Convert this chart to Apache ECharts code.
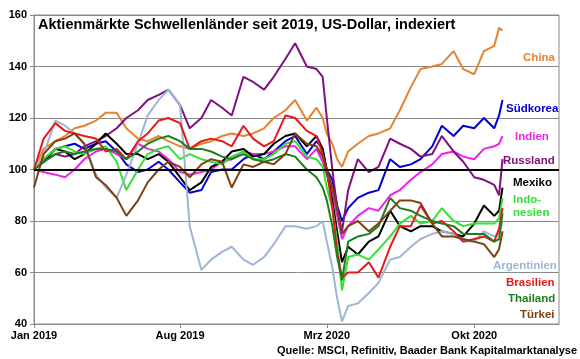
<!DOCTYPE html>
<html>
<head>
<meta charset="utf-8">
<script src="https://cdn.jsdelivr.net/npm/echarts@6/dist/echarts.min.js"></script>
<style>html,body{margin:0;padding:0;background:#fff}#c{width:580px;height:359px}</style>
</head>
<body>
<div id="c"></div>
<script>
const dates = ['2019-01-01','2019-01-15','2019-02-01','2019-02-15','2019-03-01','2019-03-15','2019-04-01','2019-04-15','2019-05-01','2019-05-15','2019-06-01','2019-06-15','2019-07-01','2019-07-15','2019-08-01','2019-08-15','2019-09-01','2019-09-15','2019-10-01','2019-10-15','2019-11-01','2019-11-15','2019-12-01','2019-12-15',
'2020-01-01','2020-01-15','2020-02-01','2020-02-15','2020-02-24','2020-03-01','2020-03-09','2020-03-16','2020-03-23','2020-04-01','2020-04-15','2020-05-01','2020-05-15','2020-06-01','2020-06-15','2020-07-01','2020-07-15','2020-08-01','2020-08-15','2020-09-01','2020-09-15','2020-10-01','2020-10-15','2020-10-30','2020-11-06','2020-11-11'];

const china      = [100,108,111,113,116,117,119,122,122,116,112,111,113,111,109,108,110,111,113,114,113,114,116,120, 123,127,119,124,120,114,110,104,101,107,110,113,114,116,123,132,139,140,141,146,139,137,146,148,155,154];
const suedkorea  = [100,104,108,109,110,108,110,111,107,102,99,100,103,100,95,91,92,99,100,100,104,106,104,107, 111,113,106,111,108,100,96,86,80,85,89,91,92,104,101,102,104,109,117,113,117,116,120,116,121,127];
const indien     = [100,99,98,97,100,104,107,108,106,104,110,108,107,104,99,98,99,100,103,104,107,106,106,107, 109,109,104,108,103,98,92,82,73,78,82,85,84,90,92,96,99,102,106,107,105,104,108,109,110,113];
const russland   = [100,103,106,105,106,109,111,113,116,120,123,127,129,131,125,116,120,127,124,121,136,134,131,136, 143,149,140,139,136,120,100,85,76,92,104,99,101,112,110,108,105,106,113,107,103,97,96,94,90,104];
const mexiko     = [100,103,108,107,104,106,110,114,110,106,106,104,106,103,97,92,95,101,103,107,108,105,106,110, 113,114,109,113,108,99,88,76,64,70,67,72,74,84,78,76,78,78,76,75,74,79,86,82,84,93];
const indonesien = [100,104,108,109,107,106,108,109,103,92,100,106,108,109,104,106,104,103,102,105,107,104,104,106, 110,111,105,104,101,93,85,72,53,66,67,65,69,74,79,82,79,80,85,80,78,79,79,79,81,89];
const argentinien= [100,106,119,117,114,110,98,93,89,98,110,121,127,131,125,78,61,65,68,70,65,63,66,71, 78,78,77,78,80,72,62,50,41,47,48,52,56,65,66,70,73,75,76,75,72,72,76,74,75,80];
const brasilien  = [100,112,118,115,114,113,112,107,108,104,111,114,119,120,118,108,111,112,111,109,117,112,109,111, 121,120,115,113,106,100,85,68,58,60,60,64,58,70,78,78,86,79,80,76,72,73,74,72,77,85];
const thailand   = [100,103,106,107,106,107,108,108,107,104,107,110,112,113,111,108,108,107,105,104,106,104,103,104, 106,105,100,97,93,88,78,66,57,72,74,75,78,89,85,84,82,80,79,78,75,75,75,72,73,83];
const tuerkei    = [93,106,111,112,114,110,97,94,89,82,88,95,100,103,101,97,102,104,103,93,102,101,103,102, 106,114,110,109,105,100,93,85,75,78,80,76,79,84,88,88,87,79,74,74,73,72,71,66,69,76];

const seriesNames  = ['China','Südkorea','Indien','Russland','Mexiko','Indonesien','Argentinien','Brasilien','Thailand','Türkei'];
const seriesValues = [china,suedkorea,indien,russland,mexiko,indonesien,argentinien,brasilien,thailand,tuerkei];
const seriesColors = ['#E8822E','#0000D0','#EE22EE','#80107F','#000000','#33E033','#9DB6D6','#E8191B','#1E7D1E','#7F4010'];

const tickDates  = ['2019-01-01','2019-08-01','2020-03-01','2020-10-01'];
const tickLabels = ['Jan 2019','Aug 2019','Mrz 2020','Okt 2020'];
const axisStart = '2019-01-01', axisEnd = '2021-02-01';

const titleText  = 'Aktienmärkte Schwellenländer seit 2019, US-Dollar, indexiert';
const sourceText = 'Quelle: MSCI, Refinitiv, Baader Bank Kapitalmarktanalyse';

const FONT = 'Arial, "Liberation Sans", sans-serif';
const ts = d => Date.UTC(+d.slice(0,4), +d.slice(5,7) - 1, +d.slice(8,10));
const tickTs = tickDates.map(ts);

const chart = echarts.init(document.getElementById('c'), null, {renderer: 'canvas'});

const labelDefs = [
  {t:'China', c:0, x:523, y:58},
  {t:'Südkorea', c:1, x:506, y:109},
  {t:'Indien', c:2, x:515, y:137},
  {t:'Russland', c:3, x:503, y:161},
  {t:'Mexiko', c:4, x:513, y:183},
  {t:'Indo-', c:5, x:513, y:200},
  {t:'nesien', c:5, x:513, y:213},
  {t:'Argentinien', c:6, x:493, y:266},
  {t:'Brasilien', c:7, x:506, y:283},
  {t:'Thailand', c:8, x:508, y:299},
  {t:'Türkei', c:9, x:520, y:315}
];

const series = seriesNames.map((n, i) => ({
  name: n,
  type: 'line',
  showSymbol: false,
  symbol: 'none',
  lineStyle: {width: 2, color: seriesColors[i]},
  itemStyle: {color: seriesColors[i]},
  data: dates.map((d, k) => [ts(d), seriesValues[i][k]]),
  z: 2
}));
series.push({
  name: 'base', type: 'line', data: [], z: 5,
  markLine: {silent: true, symbol: 'none', label: {show: false},
    lineStyle: {color: '#000', width: 2.2, type: 'solid'},
    data: [{yAxis: 100}]}
});

chart.setOption({
  animation: false,
  backgroundColor: '#fff',
  grid: {left: 34, right: 21, top: 15, bottom: 35, show: true, borderColor: '#8a8a8a', borderWidth: 1},
  title: {text: titleText, left: 38, top: 17, padding: 0,
    textStyle: {fontFamily: FONT, fontSize: 14.5, fontWeight: 'bold', color: '#000'}},
  xAxis: {
    type: 'value',
    min: ts(axisStart), max: ts(axisEnd),
    axisLine: {show: true, lineStyle: {color: '#8a8a8a', width: 1}},
    axisTick: {show: true, customValues: tickTs, length: 4, lineStyle: {color: '#8a8a8a'}},
    splitLine: {show: false},
    axisLabel: {customValues: tickTs, margin: 6, color: '#000', fontFamily: FONT, fontSize: 11, fontWeight: 'bold',
      formatter: v => { const i = tickTs.indexOf(v); return i >= 0 ? tickLabels[i] : ''; }},
  },
  yAxis: {
    type: 'value', min: 40, max: 160, interval: 20,
    axisLine: {show: true, lineStyle: {color: '#8a8a8a', width: 1}},
    axisTick: {show: true, length: 4, lineStyle: {color: '#8a8a8a'}},
    splitLine: {show: true, lineStyle: {color: '#8a8a8a', width: 1}},
    axisLabel: {margin: 7, color: '#000', fontFamily: FONT, fontSize: 11, fontWeight: 'bold'}
  },
  graphic: labelDefs.map(l => ({
    type: 'text', x: l.x, y: l.y, z: 100,
    style: {text: l.t, fill: seriesColors[l.c], font: 'bold 11.5px ' + FONT, verticalAlign: 'middle', align: 'left'}
  })).concat([{
    type: 'text', x: 577, y: 351, z: 100,
    style: {text: sourceText, fill: '#000', font: 'bold 11px ' + FONT, verticalAlign: 'middle', align: 'right'}
  }]),
  series: series
});
</script>
</body>
</html>
